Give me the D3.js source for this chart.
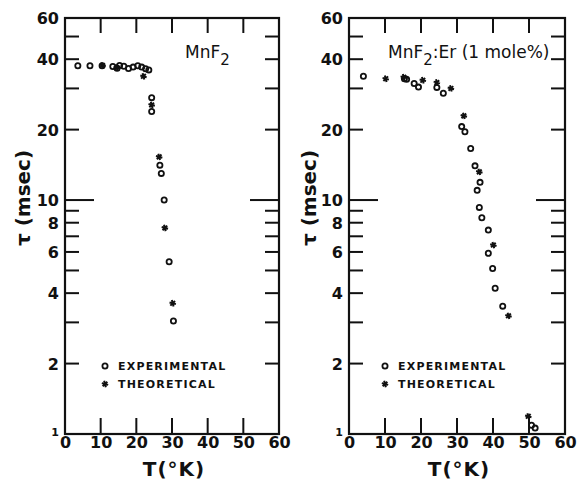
<!DOCTYPE html>
<html>
<head>
<meta charset="utf-8">
<script src="https://cdn.jsdelivr.net/npm/d3@7"></script>
<style>
  body { margin: 0; background: #fff; }
  text { font-family: "DejaVu Sans", sans-serif; fill: #111; }
</style>
</head>
<body>
<div id="chart"></div>
<script>
// data: [T (K), tau (msec)]
var mnf2Exp = [[3.6,37.5],[7,37.5],[10.4,37.5],[13.4,37.2],[14.6,36.6],[15.3,37.6],[16.5,37.3],
  [17.8,36.5],[19.1,37],[20.4,37.5],[21.5,37],[22.6,36.4],[23.5,36],[24.3,27.4],[24.3,23.9],
  [26.6,14.1],[27,13],[27.8,10],[29.2,5.45],[30.4,3.04]];
var mnf2Theo = [[10.5,37.6],[14.5,36.8],[22,33.8],[24.3,25.5],[26.4,15.3],[28,7.6],[30.2,3.62]];

var erExp = [[4,33.8],[15.4,33],[16,32.8],[18.1,31.5],[19.3,30.4],[24.4,30.3],[26.2,28.6],
  [31.3,20.6],[32.2,19.6],[33.8,16.6],[35,14],[36.4,11.9],[35.6,11],[36.2,9.3],[36.9,8.4],
  [38.7,7.44],[38.7,5.92],[39.9,5.1],[40.6,4.2],[42.7,3.52],[50.7,1.09],[51.7,1.06]];
var erTheo = [[10.2,33],[15.2,33.5],[20.5,32.5],[24.4,31.8],[28.3,30],[31.9,22.9],[36.2,13.2],
  [40.1,6.42],[44.3,3.2],[49.8,1.19]];

var xTicks = [0, 10, 20, 30, 40, 50, 60];
var yLabels = [1, 2, 4, 6, 8, 10, 20, 40, 60];
var yMinor = [2, 3, 4, 5, 6, 7, 8, 9, 10, 20, 30, 40, 50];

var svg = d3.select("#chart").append("svg")
  .attr("width", 579).attr("height", 483);

var y = d3.scaleLog().domain([1, 60]).range([434, 18]);

function panel(x0, x1, exp, theo, opts) {
  var x = d3.scaleLinear().domain([0, 60]).range([x0, x1]);
  var g = svg.append("g");

  // frame
  g.append("rect")
    .attr("x", x0).attr("y", y(60))
    .attr("width", x1 - x0).attr("height", y(1) - y(60))
    .attr("fill", "none").attr("stroke", "#111").attr("stroke-width", 2.2);

  // inward ticks, left & right
  yMinor.forEach(function(v) {
    var len = v == 10 ? 29 : 14;
    g.append("line").attr("x1", x0).attr("x2", x0 + len)
      .attr("y1", y(v)).attr("y2", y(v)).attr("stroke", "#111").attr("stroke-width", 2);
    g.append("line").attr("x1", x1).attr("x2", x1 - len)
      .attr("y1", y(v)).attr("y2", y(v)).attr("stroke", "#111").attr("stroke-width", 2);
  });
  // inward ticks, top & bottom
  xTicks.slice(1, 6).forEach(function(v) {
    g.append("line").attr("x1", x(v)).attr("x2", x(v))
      .attr("y1", y(60)).attr("y2", y(60) + 15).attr("stroke", "#111").attr("stroke-width", 2);
    g.append("line").attr("x1", x(v)).attr("x2", x(v))
      .attr("y1", y(1)).attr("y2", y(1) - 16).attr("stroke", "#111").attr("stroke-width", 2);
  });

  // axis labels
  var ya = g.append("g").attr("transform", "translate(" + x0 + ",0)")
    .call(d3.axisLeft(y).tickValues(yLabels).tickFormat(d3.format("d")).tickSize(0).tickPadding(6));
  ya.select(".domain").remove();
  ya.selectAll("text").style("font-family", "DejaVu Sans").style("font-weight", "bold")
    .style("font-size", function(d) { return d == 1 ? "11px" : "16px"; })
    .attr("dy", function(d) { return d == 1 ? "0.1em" : "0.35em"; });

  var xa = g.append("g").attr("transform", "translate(0," + y(1) + ")")
    .call(d3.axisBottom(x).tickValues(xTicks).tickSize(0).tickPadding(3));
  xa.select(".domain").remove();
  xa.selectAll("text").style("font-family", "DejaVu Sans").style("font-weight", "bold")
    .style("font-size", "16px");

  g.append("text")
    .attr("transform", "translate(" + opts.yLabelX + ",198)rotate(-90)")
    .attr("text-anchor", "middle")
    .style("font-size", "20px").style("font-weight", "bold")
    .text("τ (msec)");

  g.append("text")
    .attr("x", (x0 + x1) / 2 + 2).attr("y", 476)
    .attr("text-anchor", "middle")
    .style("font-size", "20px").style("font-weight", "bold").style("letter-spacing", "1px")
    .text("T(°K)");

  // title
  var t = g.append("text").attr("x", opts.titleX).attr("y", 58)
    .style("font-size", "17px").style("font-weight", "500");
  t.append("tspan").text("MnF");
  t.append("tspan").attr("dy", 7).style("font-size", "15px").text("2");
  if (opts.extra) t.append("tspan").attr("dy", -7).text(opts.extra);

  // points
  g.selectAll(".exp").data(exp).enter().append("circle")
    .attr("cx", function(d) { return x(d[0]); })
    .attr("cy", function(d) { return y(d[1]); })
    .attr("r", 2.6)
    .attr("fill", "none").attr("stroke", "#111").attr("stroke-width", 1.8);

  var star = d3.symbol().type(d3.symbolAsterisk).size(30);
  g.selectAll(".theo").data(theo).enter().append("path")
    .attr("d", star)
    .attr("transform", function(d) { return "translate(" + x(d[0]) + "," + y(d[1]) + ")rotate(45)"; })
    .attr("fill", "none").attr("stroke", "#111").attr("stroke-width", 2);

  // legend
  var lx = opts.legendX;
  g.append("circle").attr("cx", lx).attr("cy", 366).attr("r", 2.6)
    .attr("fill", "none").attr("stroke", "#111").attr("stroke-width", 1.8);
  g.append("path").attr("d", star).attr("transform", "translate(" + lx + ",384)rotate(45)")
    .attr("fill", "none").attr("stroke", "#111").attr("stroke-width", 2);
  g.append("text").attr("x", lx + 13).attr("y", 370)
    .style("font-size", "11px").style("font-weight", "bold").style("letter-spacing", "1.2px")
    .text("EXPERIMENTAL");
  g.append("text").attr("x", lx + 13).attr("y", 388)
    .style("font-size", "11px").style("font-weight", "bold").style("letter-spacing", "1.2px")
    .text("THEORETICAL");
}

panel(65, 279, mnf2Exp, mnf2Theo, {yLabelX: 30, titleX: 185, legendX: 105});
panel(349, 565, erExp, erTheo, {yLabelX: 316, titleX: 388, legendX: 385, extra: ":Er (1 mole%)"});
</script>
</body>
</html>
